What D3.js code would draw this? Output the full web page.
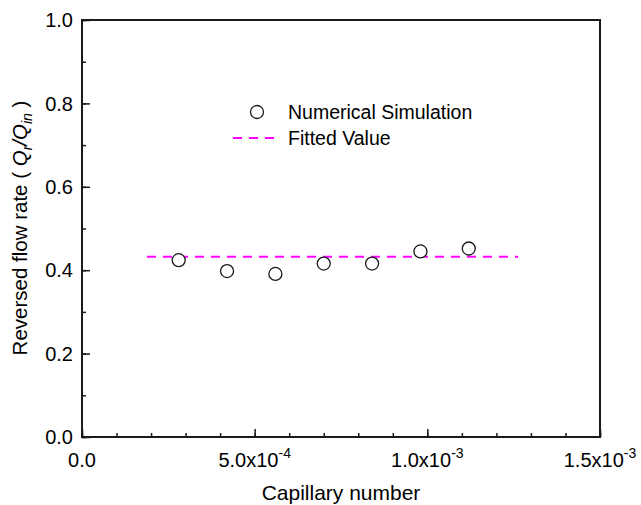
<!DOCTYPE html>
<html><head><meta charset="utf-8">
<script src="https://cdn.jsdelivr.net/npm/d3@7"></script>
<style>body{margin:0;background:#fff}svg{display:block}text{font-family:"Liberation Sans",Arial,sans-serif;fill:#000}</style>
</head><body><svg id="c" width="641" height="505"></svg>
<script>
const capillary = [2.8e-4, 4.2e-4, 5.6e-4, 7.0e-4, 8.4e-4, 9.8e-4, 1.12e-3];
const flowRate  = [0.424, 0.398, 0.391, 0.416, 0.416, 0.445, 0.452];
const fittedValue = 0.432;
const fittedRange = [1.88e-4, 1.263e-3];
const xTicks = [0, 5e-4, 1e-3, 1.5e-3];
const xTickLabels = [["0.0", ""], ["5.0x10", "-4"], ["1.0x10", "-3"], ["1.5x10", "-3"]];
const yTicks = [0, 0.2, 0.4, 0.6, 0.8, 1.0];
const yTickLabels = ["0.0", "0.2", "0.4", "0.6", "0.8", "1.0"];
const legendLabels = ["Numerical Simulation", "Fitted Value"];

const svg = d3.select("#c");
const L = 82, R = 600, T = 20, B = 437;
const x = d3.scaleLinear().domain([0, 1.5e-3]).range([L, R]);
const y = d3.scaleLinear().domain([0, 1]).range([B, T]);
const axisColor = "#1a1a1a";

const xMinor = d3.range(0, 16).map(i => i * 1e-4);
const yMinor = d3.range(0, 11).map(i => i * 0.1);

const bx = svg.append("g").attr("transform", `translate(0,${B})`)
  .call(d3.axisBottom(x).tickValues(xMinor).tickSize(-4).tickFormat(""));
const bx2 = svg.append("g").attr("transform", `translate(0,${B})`)
  .call(d3.axisBottom(x).tickValues(xTicks).tickSize(-8).tickFormat(""));
const ly = svg.append("g").attr("transform", `translate(${L},0)`)
  .call(d3.axisLeft(y).tickValues(yMinor).tickSize(-4).tickFormat(""));
const ly2 = svg.append("g").attr("transform", `translate(${L},0)`)
  .call(d3.axisLeft(y).tickValues(yTicks).tickSize(-8).tickFormat(""));
[bx, bx2, ly, ly2].forEach(g => {
  g.select(".domain").remove();
  g.selectAll(".tick line").attr("stroke", axisColor).attr("stroke-width", 1.5);
});

svg.append("rect").attr("x", L).attr("y", T).attr("width", R - L).attr("height", B - T)
  .attr("fill", "none").attr("stroke", axisColor).attr("stroke-width", 2);

svg.append("g").selectAll("text").data(yTicks).join("text")
  .attr("x", L - 9).attr("y", d => y(d)).attr("dy", "0.36em")
  .attr("text-anchor", "end").attr("font-size", 20)
  .text((d, i) => yTickLabels[i]);

const xl = svg.append("g").selectAll("text").data(xTicks).join("text")
  .attr("x", d => x(d)).attr("y", 467).attr("text-anchor", "middle").attr("font-size", 20);
xl.append("tspan").text((d, i) => xTickLabels[i][0]);
xl.append("tspan").attr("dy", -9).attr("font-size", 14).text((d, i) => xTickLabels[i][1]);

svg.append("text").attr("x", (L + R) / 2).attr("y", 500).attr("text-anchor", "middle")
  .attr("font-size", 21).text("Capillary number");
const yt = svg.append("text").attr("transform", "translate(27,228) rotate(-90)")
  .attr("text-anchor", "middle").attr("font-size", 20.5);
yt.append("tspan").text("Reversed flow rate ( ");
yt.append("tspan").attr("font-style", "italic").text("Q");
yt.append("tspan").attr("font-style", "italic").attr("font-size", 14).attr("dy", 5).text("r");
yt.append("tspan").attr("font-style", "italic").attr("dy", -5).text("/Q");
yt.append("tspan").attr("font-style", "italic").attr("font-size", 14).attr("dy", 5).text("in");
yt.append("tspan").attr("dy", -5).text(" )");

svg.append("line")
  .attr("x1", x(fittedRange[0])).attr("x2", x(fittedRange[1]))
  .attr("y1", y(fittedValue)).attr("y2", y(fittedValue))
  .attr("stroke", "#ff00ff").attr("stroke-width", 2).attr("stroke-dasharray", "9,7");

svg.append("g").selectAll("circle").data(capillary).join("circle")
  .attr("cx", d => x(d)).attr("cy", (d, i) => y(flowRate[i])).attr("r", 6.5)
  .attr("fill", "#fff").attr("stroke", "#1a1a1a").attr("stroke-width", 1.3);

svg.append("circle").attr("cx", 257).attr("cy", 112).attr("r", 6.5)
  .attr("fill", "#fff").attr("stroke", "#1a1a1a").attr("stroke-width", 1.3);
svg.append("text").attr("x", 288).attr("y", 119).attr("font-size", 19.5).text(legendLabels[0]);
svg.append("line").attr("x1", 233).attr("x2", 281).attr("y1", 138).attr("y2", 138)
  .attr("stroke", "#ff00ff").attr("stroke-width", 2).attr("stroke-dasharray", "9,7");
svg.append("text").attr("x", 288).attr("y", 145).attr("font-size", 19.5).text(legendLabels[1]);
</script></body></html>
